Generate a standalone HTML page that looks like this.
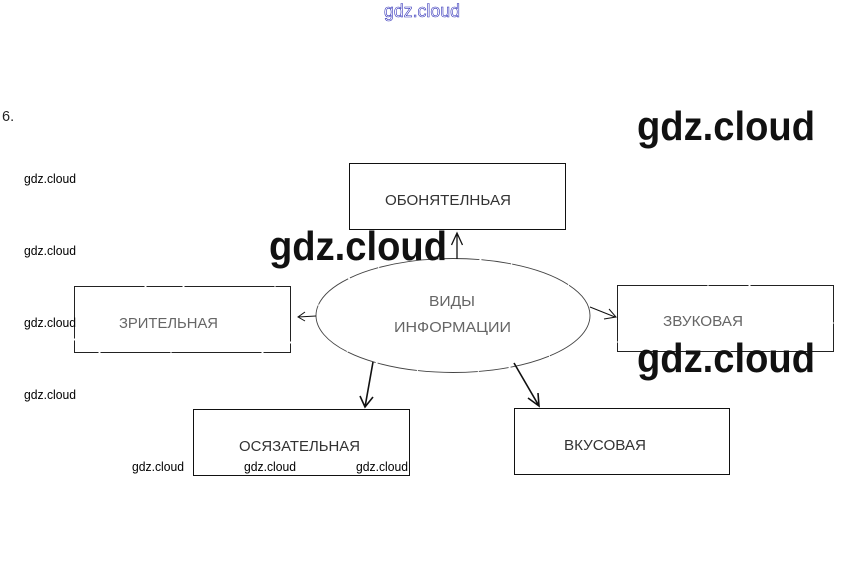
<!DOCTYPE html>
<html lang="ru">
<head>
<meta charset="utf-8">
<title>Виды информации</title>
<style>
html,body{margin:0;padding:0;background:#fff;width:842px;height:577px;overflow:hidden}
svg{display:block}
text{font-family:"Liberation Sans",sans-serif}
.lab{font-size:14.5px;fill:#333}
.faint{font-size:14.5px;fill:#666}
.wm{font-size:12.5px;fill:#000}
.big{font-size:41px;font-weight:700;fill:#111}
</style>
</head>
<body>
<svg width="842" height="577" viewBox="0 0 842 577" xmlns="http://www.w3.org/2000/svg">
<rect width="842" height="577" fill="#fff"/>

<!-- boxes -->
<g fill="#fff" stroke="#111" stroke-width="1">
<rect x="349.5" y="163.5" width="216" height="66"/>
<rect x="193.5" y="409.5" width="216" height="66"/>
<rect x="514.5" y="408.5" width="215" height="66"/>
</g>
<g fill="none" stroke="#222" stroke-width="1">
<rect x="74.5" y="286.5" width="216" height="66" stroke-dasharray="70 2 36 2 90 1"/>
<rect x="617.5" y="285.5" width="216" height="66" stroke-dasharray="90 1 40 2 120 1"/>
<ellipse cx="453" cy="315.5" rx="137" ry="57" stroke="#444" stroke-width="0.9" stroke-dasharray="60 1 40 2 30 1"/>
</g>

<!-- arrows -->
<g fill="none" stroke="#111" stroke-width="1.3">
<path d="M457 259V233M451.500 245L457 233L462.500 245"/>
<path d="M316 316L298 317M305 312L298 317L305 321" stroke-width="1"/>
<path d="M590 307L615 317M604 319L616 317L609 309" stroke-width="1"/>
<path d="M373 362L365 407M360 396L365 407L373 397" stroke-width="1.6"/>
<path d="M514 363L539 406M528 398L539 406L538 393" stroke-width="1.6"/>
</g>

<!-- node labels -->
<text class="lab" x="385" y="205" textLength="126" lengthAdjust="spacingAndGlyphs">ОБОНЯТЕЛНЬАЯ</text>
<text class="faint" x="119" y="328" textLength="99" lengthAdjust="spacingAndGlyphs">ЗРИТЕЛЬНАЯ</text>
<text class="faint" x="663" y="326" textLength="80" lengthAdjust="spacingAndGlyphs">ЗВУКОВАЯ</text>
<text class="faint" x="429" y="306" textLength="46" lengthAdjust="spacingAndGlyphs">ВИДЫ</text>
<text class="faint" x="394" y="332" textLength="117" lengthAdjust="spacingAndGlyphs">ИНФОРМАЦИИ</text>
<text class="lab" x="239" y="451" textLength="121" lengthAdjust="spacingAndGlyphs">ОСЯЗАТЕЛЬНАЯ</text>
<text class="lab" x="564" y="450" textLength="82" lengthAdjust="spacingAndGlyphs">ВКУСОВАЯ</text>

<text x="2" y="121" font-size="14.5" fill="#222">6.</text>

<!-- small watermarks -->
<text class="wm" x="24" y="183" textLength="52" lengthAdjust="spacingAndGlyphs">gdz.cloud</text>
<text class="wm" x="24" y="255" textLength="52" lengthAdjust="spacingAndGlyphs">gdz.cloud</text>
<text class="wm" x="24" y="327" textLength="52" lengthAdjust="spacingAndGlyphs">gdz.cloud</text>
<text class="wm" x="24" y="399" textLength="52" lengthAdjust="spacingAndGlyphs">gdz.cloud</text>
<text class="wm" x="132" y="471" textLength="52" lengthAdjust="spacingAndGlyphs">gdz.cloud</text>
<text class="wm" x="244" y="471" textLength="52" lengthAdjust="spacingAndGlyphs">gdz.cloud</text>
<text class="wm" x="356" y="471" textLength="52" lengthAdjust="spacingAndGlyphs">gdz.cloud</text>

<!-- large watermarks -->
<text class="big" x="637" y="140" textLength="178" lengthAdjust="spacingAndGlyphs">gdz.cloud</text>
<text class="big" x="269" y="260" textLength="178" lengthAdjust="spacingAndGlyphs">gdz.cloud</text>
<text class="big" x="637" y="372" textLength="178" lengthAdjust="spacingAndGlyphs">gdz.cloud</text>

<!-- top outlined watermark -->
<text x="384" y="17" font-size="18" fill="#fff" stroke="#3030b8" stroke-width="0.6" textLength="76" lengthAdjust="spacingAndGlyphs">gdz.cloud</text>
</svg>
</body>
</html>
